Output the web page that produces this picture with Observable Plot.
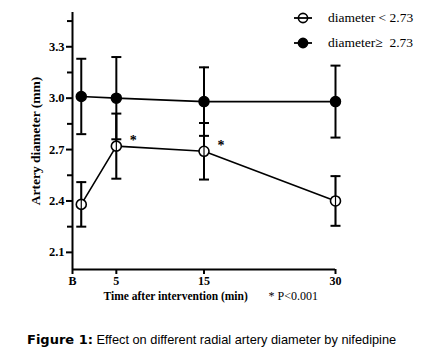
<!DOCTYPE html>
<html><head><meta charset="utf-8">
<script src="https://cdn.jsdelivr.net/npm/d3@7"></script>
<script src="https://cdn.jsdelivr.net/npm/@observablehq/plot@0.6"></script>
<style>
body{margin:0;background:#fff;width:440px;height:363px;position:relative;overflow:hidden}
#chart{position:absolute;left:0;top:0}
#legend{position:absolute;left:294px;top:5px;font-family:"Liberation Serif",serif;font-size:13.5px;color:#000}
.li{display:flex;align-items:center;height:25px;white-space:pre}
.li svg{margin-right:16px}
#caption{position:absolute;left:27px;top:332px;font-family:"Liberation Sans",Arial,sans-serif;font-size:12.8px;color:#000;white-space:nowrap}
#caption b{font-family:"DejaVu Sans",sans-serif;font-weight:bold;font-size:13px}
</style></head>
<body>
<div id="chart"></div>
<div id="legend"></div>
<div id="caption"><b>Figure 1:</b> Effect on different radial artery diameter by nifedipine</div>
<script>
// Data
const times = [1, 5, 15, 30];            // B (baseline) plotted just right of origin
const xTicks = [0, 5, 15, 30];
const xTickLabels = ["B", "5", "15", "30"];
const yTicks = [2.1, 2.4, 2.7, 3.0, 3.3];
const yMinorTicks = [2.25, 2.55, 2.85, 3.15, 3.45];
const smallMean = [2.38, 2.72, 2.69, 2.40];   // diameter < 2.73
const smallSD   = [0.13, 0.19, 0.165, 0.145];
const largeMean = [3.01, 3.00, 2.98, 2.98];   // diameter >= 2.73
const largeSD   = [0.22, 0.24, 0.20, 0.21];
const seriesNames = ["diameter < 2.73", "diameter\u2265  2.73"];
const sigIndex = [1, 2];   // points marked with *

const rows = (mean, sd, name) => times.map((t, i) => ({t, m: mean[i], lo: mean[i] - sd[i], hi: mean[i] + sd[i], name}));
const small = rows(smallMean, smallSD, seriesNames[0]);
const large = rows(largeMean, largeSD, seriesNames[1]);
const sig = sigIndex.map(i => small[i]);

const cap = {draw(ctx, size) { const r = Math.sqrt(size / Math.PI); ctx.moveTo(-r, 0); ctx.lineTo(r, 0); }};
const serif = "Liberation Serif";

const errMarks = d => [
  Plot.ruleX(d, {x: "t", y1: "lo", y2: "hi", stroke: "#000", strokeWidth: 2}),
  Plot.dot(d, {x: "t", y: "lo", symbol: cap, r: 5, stroke: "#000", strokeWidth: 2}),
  Plot.dot(d, {x: "t", y: "hi", symbol: cap, r: 5, stroke: "#000", strokeWidth: 2})
];

const chart = Plot.plot({
  width: 440, height: 315,
  marginLeft: 72, marginRight: 105, marginTop: 12, marginBottom: 46,
  x: {domain: [0, 30]},
  y: {domain: [2.0, 3.5]},
  style: {fontFamily: serif, color: "#000", background: "transparent"},
  marks: [
    Plot.axisY({ticks: yTicks, tickFormat: d3.format(".1f"), tickSize: 6, tickPadding: 2, strokeWidth: 2, fontSize: 12.5, fontWeight: "bold", label: null}),
    Plot.axisY({ticks: yMinorTicks, tickFormat: () => "", tickSize: 5, strokeWidth: 2, label: null}),
    Plot.axisX({ticks: xTicks, tickFormat: d => xTickLabels[xTicks.indexOf(d)], tickSize: 5, tickPadding: 2, strokeWidth: 2, fontSize: 12, fontWeight: "bold", label: null}),
    Plot.ruleX([0], {stroke: "#000", strokeWidth: 2}),
    Plot.ruleY([2.0], {stroke: "#000", strokeWidth: 2}),
    Plot.text(["Artery diameter (mm)"], {frameAnchor: "left", textAnchor: "middle", rotate: -90, dx: -37, fontSize: 13.5, fontWeight: "bold", fontFamily: serif}),
    Plot.text(["Time after intervention (min)"], {frameAnchor: "bottom-left", textAnchor: "start", dx: 31, dy: 30, fontSize: 11.5, fontWeight: "bold", fontFamily: serif}),
    Plot.text(["* P<0.001"], {frameAnchor: "bottom-left", textAnchor: "start", dx: 196, dy: 30, fontSize: 12, fontFamily: serif}),
    Plot.line(large, {x: "t", y: "m", stroke: "#000", strokeWidth: 1.6}),
    Plot.line(small, {x: "t", y: "m", stroke: "#000", strokeWidth: 1.6}),
    ...errMarks(large),
    ...errMarks(small),
    Plot.dot(large, {x: "t", y: "m", r: 5, fill: "#000", stroke: "#000"}),
    Plot.dot(small, {x: "t", y: "m", r: 5, fill: "#fff", stroke: "#000", strokeWidth: 1.6}),
    Plot.ruleX(small, {x: "t", y1: "lo", y2: "hi", stroke: "#000", strokeWidth: 1.2}),
    Plot.text(sig, {x: "t", y: "m", text: () => "*", dx: 17, dy: -6, fontSize: 14, fontWeight: "bold", fontFamily: serif})
  ]
});
document.getElementById("chart").appendChild(chart);

// Legend
const legend = document.getElementById("legend");
seriesNames.forEach((name, i) => {
  const row = document.createElement("div");
  row.className = "li";
  const open = i === 0;
  row.innerHTML = `<svg width="18" height="12">`
    + (open ? "" : `<line x1="0" x2="18" y1="6" y2="6" stroke="#000" stroke-width="1.8"/>`)
    + `<circle cx="9" cy="6" r="4.6" fill="${open ? "#fff" : "#000"}" stroke="#000" stroke-width="1.6"/>`
    + (open ? `<line x1="0" x2="18" y1="6" y2="6" stroke="#000" stroke-width="1.8"/>` : "")
    + `</svg><span>${name}</span>`;
  legend.appendChild(row);
});
</script>
</body></html>
